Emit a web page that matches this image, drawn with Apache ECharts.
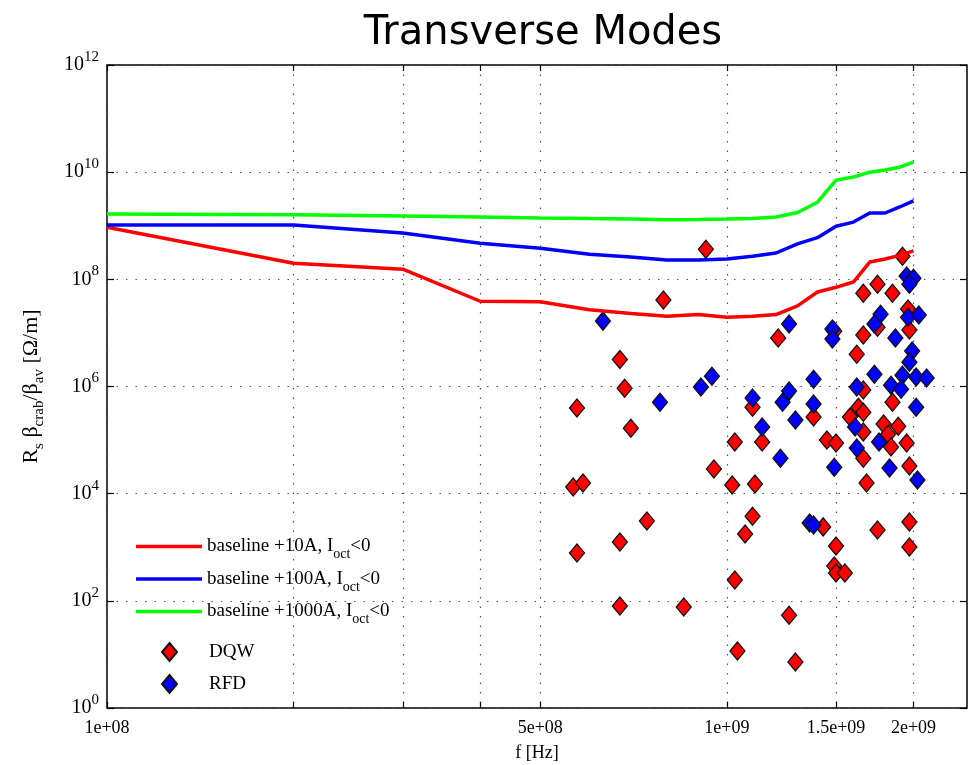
<!DOCTYPE html>
<html>
<head>
<meta charset="utf-8">
<title>Transverse Modes</title>
<script src="https://cdn.jsdelivr.net/npm/echarts@6/dist/echarts.min.js"></script>
<style>
  html, body { margin: 0; padding: 0; background: #fff; }
  #chart { width: 969px; height: 765px; }
</style>
</head>
<body>
<div id="chart"></div>
<script>
// frequencies where the threshold curves are evaluated [Hz]
const lineFreq = [1e8, 2e8, 3e8, 4e8, 5e8, 6e8, 7e8, 8e8, 9e8, 1e9,
  1.1e9, 1.2e9, 1.3e9, 1.4e9, 1.5e9, 1.6e9, 1.7e9, 1.8e9, 1.9e9, 2e9];
const baseline10A = [9.4e8, 2.0e8, 1.55e8, 3.9e7, 3.8e7, 2.7e7, 2.3e7, 2.05e7, 2.2e7, 1.97e7,
  2.05e7, 2.2e7, 3.2e7, 5.8e7, 7.1e7, 8.9e7, 2.1e8, 2.4e8, 2.8e8, 3.4e8];
const baseline100A = [1.03e9, 1.03e9, 7.3e8, 4.7e8, 3.8e8, 2.95e8, 2.6e8, 2.3e8, 2.3e8, 2.4e8,
  2.7e8, 3.1e8, 4.6e8, 6.0e8, 9.8e8, 1.17e9, 1.73e9, 1.73e9, 2.24e9, 2.9e9];
const baseline1000A = [1.65e9, 1.6e9, 1.52e9, 1.45e9, 1.39e9, 1.36e9, 1.34e9, 1.3e9, 1.31e9, 1.33e9,
  1.37e9, 1.46e9, 1.77e9, 2.75e9, 7.1e9, 8.1e9, 1.0e10, 1.1e10, 1.24e10, 1.54e10];

// DQW modes
const dqwFreq = [9.25e8, 7.9e8, 6.72e8, 6.84e8, 5.73e8, 7.0e8, 9.53e8, 5.65e8, 5.86e8, 7.43e8,
  6.72e8, 5.73e8, 6.72e8, 8.52e8, 1.21e9, 1.49e9, 1.10e9, 1.38e9, 1.03e9, 1.14e9,
  1.45e9, 1.50e9, 1.92e9, 1.66e9, 1.75e9, 1.85e9, 1.96e9, 1.97e9, 1.66e9, 1.75e9,
  1.62e9, 1.66e9, 1.85e9, 1.63e9, 1.58e9, 1.66e9, 1.66e9, 1.79e9, 1.89e9, 1.82e9,
  1.84e9, 1.95e9, 1.66e9, 1.97e9, 1.02e9, 1.11e9, 1.68e9, 1.10e9, 1.07e9, 1.43e9,
  1.75e9, 1.97e9, 1.97e9, 1.50e9, 1.49e9, 1.50e9, 1.55e9, 1.03e9, 1.26e9, 1.04e9, 1.29e9];
const dqwR = [3.66e8, 4.1e7, 3.2e6, 9.3e5, 3.95e5, 1.67e5, 2.9e4, 1.33e4, 1.58e4, 3.1e3,
  1.25e3, 780, 80, 77, 8.0e6, 1.08e7, 4.1e5, 2.7e5, 9.2e4, 9.2e4,
  1.0e5, 8.8e4, 2.7e8, 5.5e7, 8.1e7, 5.5e7, 2.8e7, 1.13e7, 9.1e6, 1.28e7,
  4.0e6, 8.6e5, 5.1e5, 4.1e5, 2.7e5, 3.3e5, 1.41e5, 2.0e5, 1.82e5, 1.29e5,
  7.4e4, 8.8e4, 4.6e4, 3.3e4, 1.45e4, 1.51e4, 1.58e4, 3.8e3, 1.76e3, 2.4e3,
  2.1e3, 2.95e3, 1.01e3, 1.05e3, 446, 330, 330, 244, 54, 11.6, 7.2];

// RFD modes
const rfdFreq = [6.31e8, 9.46e8, 9.08e8, 7.8e8, 1.26e9, 1.48e9, 1.48e9, 1.38e9, 1.26e9, 1.10e9,
  1.23e9, 1.38e9, 1.29e9, 1.14e9, 1.22e9, 1.49e9, 1.95e9, 2.0e9, 1.97e9, 1.77e9,
  1.73e9, 1.96e9, 2.04e9, 1.87e9, 1.99e9, 1.97e9, 1.92e9, 2.02e9, 2.10e9, 1.73e9,
  1.62e9, 1.84e9, 1.91e9, 2.02e9, 1.61e9, 1.62e9, 1.76e9, 1.83e9, 2.03e9, 1.36e9, 1.38e9];
const rfdR = [1.66e7, 1.56e6, 9.75e5, 5.1e5, 1.46e7, 1.18e7, 7.7e6, 1.37e6, 8.2e5, 6.1e5,
  5.1e5, 4.7e5, 2.36e5, 1.75e5, 4.6e4, 3.1e4, 1.15e8, 1.05e8, 8.1e7, 2.24e7,
  1.46e7, 1.97e7, 2.15e7, 8.0e6, 4.6e6, 2.85e6, 1.63e6, 1.5e6, 1.44e6, 1.7e6,
  9.75e5, 1.06e6, 8.9e5, 4.1e5, 1.75e5, 7.1e4, 9.2e4, 3.0e4, 1.79e4, 2.83e3, 2.6e3];

const xGridTicks = [1e8, 2e8, 3e8, 4e8, 5e8, 1e9, 1.5e9, 2e9];
const xTickLabels = [1e8, 5e8, 1e9, 1.5e9, 2e9];
const yTicks = [1, 1e2, 1e4, 1e6, 1e8, 1e10, 1e12];

function zip(a, b) {
  return a.map((v, i) => [v, b[i]]);
}

const serif = "Liberation Serif";
const gridLine = { show: true, lineStyle: { type: [1.5, 8], color: "#555", width: 1.2 } };
const legendText = {
  fontFamily: serif, fontSize: 19, color: "#000",
  rich: { sub: { fontFamily: serif, fontSize: 14, padding: [16, 0, 0, 0] } },
};

const chart = echarts.init(document.getElementById("chart"));
const option = {
  backgroundColor: "#fff",
  animation: false,
  title: {
    text: "Transverse Modes",
    left: 538,
    textAlign: "center",
    top: 9,
    textStyle: { fontFamily: "DejaVu Sans", fontWeight: "normal", fontSize: 40, color: "#000" },
  },
  grid: {
    left: 107, right: 2, top: 65, bottom: 57,
    outerBoundsMode: "none",
    show: true, borderColor: "#000", borderWidth: 1.5,
  },
  legend: [
    {
      // curves
      orient: "vertical",
      left: 131,
      top: 532,
      icon: "rect",
      itemWidth: 66,
      itemHeight: 3.5,
      itemGap: 8,
      data: ["baseline +10A, Ioct<0", "baseline +100A, Ioct<0", "baseline +1000A, Ioct<0"],
      formatter: (name) => name.replace("Ioct", "I{sub|oct}"),
      textStyle: legendText,
    },
    {
      // modes
      orient: "vertical",
      left: 156,
      top: 637,
      itemWidth: 15,
      itemHeight: 18,
      itemGap: 12,
      data: ["DQW", "RFD"],
      textStyle: Object.assign({}, legendText, { padding: [0, 0, 0, 27] }),
    },
  ],
  xAxis: [
    {
      type: "log",
      min: 1e8,
      max: 2.44e9,
      name: "f [Hz]",
      nameLocation: "middle",
      nameGap: 36,
      nameTextStyle: { fontFamily: serif, fontSize: 18, color: "#000" },
      axisLine: { show: false },
      axisTick: { show: true, inside: true, length: 6, customValues: xGridTicks, lineStyle: { color: "#000", width: 1.2 } },
      axisLabel: {
        customValues: xTickLabels,
        margin: 11,
        fontFamily: serif, fontSize: 18, color: "#000",
        formatter: (v) => Number(v.toPrecision(3)).toExponential().replace(/e\+(\d)$/, "e+0$1"),
      },
      splitLine: gridLine,
    },
    {
      type: "log",
      position: "top",
      min: 1e8,
      max: 2.44e9,
      axisLine: { show: false },
      axisTick: { show: true, inside: true, length: 6, customValues: xGridTicks, lineStyle: { color: "#000", width: 1.2 } },
      axisLabel: { show: false, customValues: xGridTicks },
      splitLine: { show: false },
    },
  ],
  yAxis: [
    {
      type: "log",
      min: 1,
      max: 1e12,
      name: "{n|R}{s|s}{n| β}{s|crab}{n|/β}{s|av}{n| [Ω/m]}",
      nameLocation: "middle",
      nameGap: 60,
      nameTextStyle: {
        fontFamily: serif, color: "#000",
        rich: {
          n: { fontFamily: serif, fontSize: 22, color: "#000" },
          s: { fontFamily: serif, fontSize: 15, color: "#000", padding: [16, 0, 0, 0] },
        },
      },
      axisLine: { show: false },
      axisTick: { show: true, inside: true, length: 7, customValues: yTicks, lineStyle: { color: "#000", width: 1.2 } },
      axisLabel: {
        customValues: yTicks,
        margin: 8,
        formatter: (v) => "{b|10}{e|" + Math.round(Math.log10(v)) + "}",
        rich: {
          b: { fontFamily: serif, fontSize: 20, color: "#000" },
          e: { fontFamily: serif, fontSize: 15, color: "#000", padding: [0, 0, 16, 0] },
        },
      },
      splitLine: gridLine,
    },
    {
      type: "log",
      position: "right",
      min: 1,
      max: 1e12,
      axisLine: { show: false },
      axisTick: { show: true, inside: true, length: 7, customValues: yTicks, lineStyle: { color: "#000", width: 1.2 } },
      axisLabel: { show: false, customValues: yTicks },
      splitLine: { show: false },
    },
  ],
  series: [
    {
      name: "baseline +10A, Ioct<0",
      type: "line",
      symbol: "none",
      lineStyle: { color: "#ff0000", width: 3.5 },
      itemStyle: { color: "#ff0000" },
      data: zip(lineFreq, baseline10A),
    },
    {
      name: "baseline +100A, Ioct<0",
      type: "line",
      symbol: "none",
      lineStyle: { color: "#0000ff", width: 3.5 },
      itemStyle: { color: "#0000ff" },
      data: zip(lineFreq, baseline100A),
    },
    {
      name: "baseline +1000A, Ioct<0",
      type: "line",
      symbol: "none",
      lineStyle: { color: "#00ff00", width: 3.5 },
      itemStyle: { color: "#00ff00" },
      data: zip(lineFreq, baseline1000A),
    },
    {
      name: "DQW",
      type: "scatter",
      symbol: "diamond",
      symbolSize: [15, 18],
      itemStyle: { color: "#ff0000", borderColor: "#111", borderWidth: 1.3, opacity: 1 },
      data: zip(dqwFreq, dqwR),
    },
    {
      name: "RFD",
      type: "scatter",
      symbol: "diamond",
      symbolSize: [15, 18],
      itemStyle: { color: "#0000ff", borderColor: "#111", borderWidth: 1.3, opacity: 1 },
      data: zip(rfdFreq, rfdR),
    },
  ],
};
chart.setOption(option);
</script>
</body>
</html>
